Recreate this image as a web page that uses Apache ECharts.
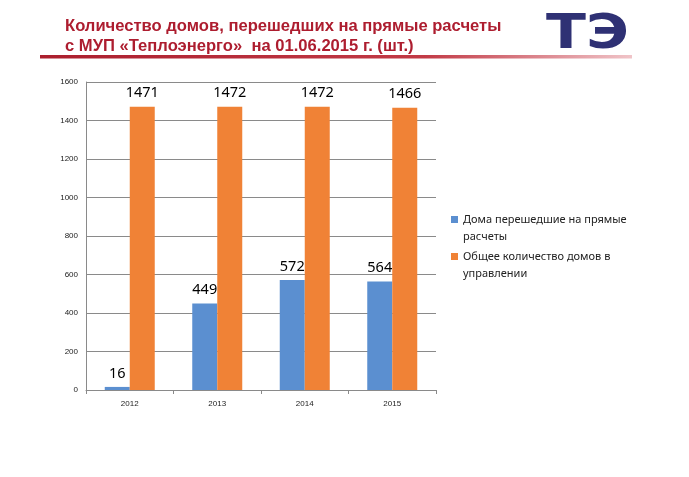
<!DOCTYPE html>
<html><head><meta charset="utf-8">
<script src="https://cdn.jsdelivr.net/npm/echarts@6/dist/echarts.min.js"></script>
<style>html,body{margin:0;padding:0;background:#fff}#c{width:689px;height:477px}</style>
</head><body><div id="c"></div>
<script>
var categories = ['2012', '2013', '2014', '2015'];
var seriesNames = ['Дома перешедшие на прямые расчеты', 'Общее количество домов в управлении'];
var transferred = [16, 449, 572, 564];
var total = [1471, 1472, 1472, 1466];
var yTicks = { min: 0, max: 1600, interval: 200 };
var titleLines = ['Количество домов, перешедших на прямые расчеты', 'с МУП «Теплоэнерго»  на 01.06.2015 г. (шт.)'];
var legendLines = {};
legendLines[seriesNames[0]] = 'Дома перешедшие на прямые\nрасчеты';
legendLines[seriesNames[1]] = 'Общее количество домов в\nуправлении';

var chart = echarts.init(document.getElementById('c'));
var labelStyle = { show: true, position: 'top', distance: 6, color: '#000', fontSize: 14.5, fontFamily: 'Noto Sans' };
chart.setOption({
  animation: false,
  backgroundColor: '#fff',
  graphic: [
    { type: 'text', left: 65, top: 16, style: { text: titleLines.join('\n'), fill: '#ad1d2f', font: 'bold 16.6px "Liberation Sans"', lineHeight: 20 } },
    { type: 'rect', shape: { x: 40, y: 55, width: 592, height: 3.5 },
      style: { fill: new echarts.graphic.LinearGradient(0, 0, 1, 0, [
        { offset: 0, color: '#ab1f2e' }, { offset: 0.65, color: '#c23a46' }, { offset: 1, color: '#f0c4c8' }]) } },
    { type: 'text', left: 546, top: 12, scaleX: 1.22, style: { text: 'ТЭ', fill: '#2f3174', font: 'bold 48px "DejaVu Sans"' } }
  ],
  grid: { left: 86, right: 253, top: 82, bottom: 87 },
  legend: {
    orient: 'vertical', left: 446, top: 206, itemWidth: 7, itemHeight: 24, itemGap: 3, itemStyle: { borderWidth: 0 },
    icon: 'path://M0,0L7,0L7,7L0,7Z M0,23.99L0.01,23.99L0.01,24L0,24Z M6.99,23.99L7,23.99L7,24L6.99,24Z',
    data: seriesNames,
    formatter: function (n) { return legendLines[n]; },
    textStyle: { fontSize: 11, fontFamily: 'Noto Sans', color: '#222', lineHeight: 17 }
  },
  xAxis: {
    type: 'category', data: categories,
    axisLine: { lineStyle: { color: '#8a8a8a' } },
    axisTick: { show: true, length: 4, lineStyle: { color: '#8a8a8a' } },
    axisLabel: { fontSize: 8, color: '#222', margin: 10, fontFamily: 'Liberation Sans' }
  },
  yAxis: {
    type: 'value', min: yTicks.min, max: yTicks.max, interval: yTicks.interval,
    axisLine: { show: true, lineStyle: { color: '#8a8a8a' } },
    axisTick: { show: false },
    axisLabel: { fontSize: 8, color: '#222', margin: 8, fontFamily: 'Liberation Sans', formatter: function (v) { return String(v); } },
    splitLine: { lineStyle: { color: '#8a8a8a', width: 1 } }
  },
  series: [
    { name: seriesNames[0], type: 'bar', data: transferred, barWidth: 25, barGap: '0%', itemStyle: { color: '#5b8fd0' }, label: labelStyle },
    { name: seriesNames[1], type: 'bar', data: total, barWidth: 25, barGap: '0%', itemStyle: { color: '#f08236' }, label: labelStyle }
  ]
});
</script></body></html>
